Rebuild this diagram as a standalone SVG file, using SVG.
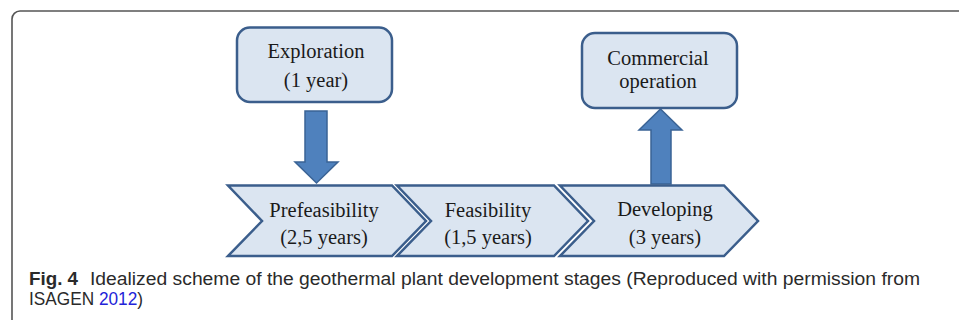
<svg xmlns="http://www.w3.org/2000/svg" width="959" height="320" viewBox="0 0 959 320">
  <style>
    .box { fill: #dbe5f1; stroke: #3b5e8c; stroke-width: 2.5; }
    .stage { fill: #dbe5f1; stroke: #3b5e8c; stroke-width: 2.5; stroke-linejoin: miter; }
    .arrow { fill: #4f81bd; stroke: #3a6395; stroke-width: 1.5; }
    .lbl { font-family: "Liberation Serif", "Times New Roman", serif; font-size: 20.5px; fill: #1a1a1a; text-anchor: middle; }
    .cap { font-family: "Liberation Sans", Arial, sans-serif; font-size: 17.5px; fill: #2a2a2a; }
    .link { fill: #2323d8; }
    .frame { fill: none; stroke: #555; stroke-width: 1.6; }
  </style>

  <rect width="959" height="320" fill="#ffffff"/>

  <!-- panel frame: left and top rule with rounded corner -->
  <path class="frame" d="M12 320 V19 A8 8 0 0 1 20 11 H959"/>

  <!-- connectors -->
  <g id="connectors">
    <path class="arrow" d="M305 111 H327 V162 H338 L316.5 183 L295 162 H305 Z"/>
    <path class="arrow" d="M651 184 V130 H639 L660.5 109 L682 130 H671 V184 Z"/>
  </g>

  <g id="exploration">
    <rect class="box" x="237" y="27.5" width="155" height="74.5" rx="13"/>
    <text class="lbl" x="316" y="58">Exploration</text>
    <text class="lbl" x="316" y="87">(1 year)</text>
  </g>

  <g id="commercial">
    <rect class="box" x="582" y="33" width="155" height="75" rx="13"/>
    <text class="lbl" x="658" y="65">Commercial</text>
    <text class="lbl" x="658" y="88">operation</text>
  </g>

  <g id="prefeasibility">
    <path class="stage" d="M228 185.5 H392 L426 221 L392 256 H228 L262 221 Z"/>
    <text class="lbl" x="324" y="217">Prefeasibility</text>
    <text class="lbl" x="324" y="244">(2,5 years)</text>
  </g>

  <g id="feasibility">
    <path class="stage" d="M397 185.5 H554 L588 221 L554 256 H397 L431 221 Z"/>
    <text class="lbl" x="488" y="217">Feasibility</text>
    <text class="lbl" x="488" y="244">(1,5 years)</text>
  </g>

  <g id="developing">
    <path class="stage" d="M560 185.5 H724 L758 221 L724 256 H560 L594 221 Z"/>
    <text class="lbl" x="665" y="216">Developing</text>
    <text class="lbl" x="665" y="244">(3 years)</text>
  </g>

  <!-- caption -->
  <text class="cap" x="29" y="284.5" font-weight="bold" textLength="49" lengthAdjust="spacingAndGlyphs">Fig. 4</text>
  <text class="cap" x="90" y="284.5" textLength="830" lengthAdjust="spacingAndGlyphs">Idealized scheme of the geothermal plant development stages (Reproduced with permission from</text>
  <text class="cap" x="29" y="304.5" textLength="114" lengthAdjust="spacingAndGlyphs">ISAGEN <tspan class="link">2012</tspan>)</text>
</svg>
